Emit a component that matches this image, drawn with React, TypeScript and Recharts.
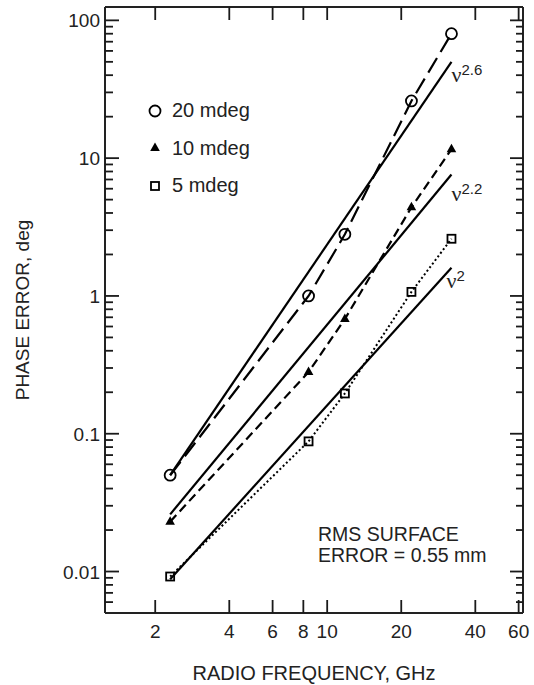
import React from "react";
import { ComposedChart, Line, XAxis, YAxis, ReferenceDot, Legend } from "recharts";

// measured points, GHz vs deg
const FREQ = [2.3, 8.4, 11.8, 22, 32];
const ERR_20MDEG = [0.05, 1.0, 2.8, 26, 80];
const ERR_10MDEG = [0.023, 0.28, 0.68, 4.4, 11.6];
const ERR_5MDEG = [0.0092, 0.088, 0.196, 1.07, 2.6];

// power-law reference lines (end points)
const FIT_FREQ = [2.3, 32];
const FIT_NU26 = [0.05, 50];
const FIT_NU22 = [0.026, 7.6];
const FIT_NU20 = [0.0088, 1.6];

const X_TICKS = [2, 4, 6, 8, 10, 20, 40, 60];
const Y_MAJOR = [0.01, 0.1, 1, 10, 100];
const Y_MINOR = [
  0.006, 0.007, 0.008, 0.009,
  0.02, 0.03, 0.04, 0.05, 0.06, 0.07, 0.08, 0.09,
  0.2, 0.3, 0.4, 0.5, 0.6, 0.7, 0.8, 0.9,
  2, 3, 4, 5, 6, 7, 8, 9,
  20, 30, 40, 50, 60, 70, 80, 90,
];
const Y_TICKS = [...Y_MAJOR, ...Y_MINOR].sort((a, b) => a - b);

const LEGEND_LABELS = ["20 mdeg", "10 mdeg", "5 mdeg"];

const toPoints = (xs: number[], ys: number[]) => xs.map((x, i) => ({ x, y: ys[i] }));

const INK = "#222";
const TICK = "#1a1a1a";
const FONT = "'Liberation Sans', Arial, sans-serif";
const FS = 19;

function CircleDot(props: any) {
  const { cx, cy } = props;
  return <circle cx={cx} cy={cy} r={5.5} fill="none" stroke="#000" strokeWidth={1.8} />;
}

function TriDot(props: any) {
  const { cx, cy } = props;
  return <path d={`M${cx},${cy - 5.5} L${cx + 4.8},${cy + 3} L${cx - 4.8},${cy + 3} Z`} fill="#000" />;
}

function SquareDot(props: any) {
  const { cx, cy } = props;
  return <rect x={cx - 4} y={cy - 4} width={8} height={8} fill="none" stroke="#000" strokeWidth={1.8} />;
}

// inward tick marks, drawn by hand since recharts only draws them outward
function LeftTick(props: any) {
  const x = Number(props.x);
  const y = Number(props.y);
  const value = props.payload.value;
  const ax = x + 5;
  const major = Y_MAJOR.includes(value);
  return (
    <g>
      <path d={`M${ax},${y}h${major ? 14 : 8}`} stroke={TICK} strokeWidth={1.8} fill="none" />
      {major && (
        <text x={x} y={y} dy={7} textAnchor="end" fill={INK} fontSize={FS} fontFamily={FONT}>
          {value}
        </text>
      )}
    </g>
  );
}

function RightTick(props: any) {
  const x = Number(props.x);
  const y = Number(props.y);
  const major = Y_MAJOR.includes(props.payload.value);
  return <path d={`M${x},${y}h${major ? -13 : -7}`} stroke={TICK} strokeWidth={1.8} fill="none" />;
}

function BottomTick(props: any) {
  const x = Number(props.x);
  const y = Number(props.y);
  return (
    <g>
      <path d={`M${x},${y}v-13`} stroke={TICK} strokeWidth={1.8} fill="none" />
      <text x={x} y={y + 25} textAnchor="middle" fill={INK} fontSize={FS} fontFamily={FONT}>
        {props.payload.value}
      </text>
    </g>
  );
}

function TopTick(props: any) {
  const x = Number(props.x);
  const y = Number(props.y);
  return <path d={`M${x},${y}v13`} stroke={TICK} strokeWidth={1.8} fill="none" />;
}

function YTitle(props: any) {
  const { viewBox } = props;
  const cx = viewBox.x + 29;
  const cy = viewBox.y + viewBox.height / 2;
  return (
    <text x={cx} y={cy} transform={`rotate(-90 ${cx} ${cy})`} textAnchor="middle" fill={INK} fontSize={FS} fontFamily={FONT}>
      PHASE ERROR, deg
    </text>
  );
}

function NuLabel(props: any) {
  const { viewBox, power, dx, dy } = props;
  const x = viewBox.x + dx;
  const y = viewBox.y + dy;
  return (
    <text x={x} y={y} fill={INK}>
      <tspan fontFamily="'Liberation Serif', serif" fontSize={22}>ν</tspan>
      <tspan dy={-7} fontFamily={FONT} fontSize={15}>{power}</tspan>
    </text>
  );
}

function LegendBox() {
  const marks = [
    <circle key="c" cx={10} cy={10} r={5.5} fill="none" stroke="#000" strokeWidth={1.8} />,
    <path key="t" d="M10,4.5 L14.8,13 L5.2,13 Z" fill="#000" />,
    <rect key="s" x={6} y={6} width={8} height={8} fill="none" stroke="#000" strokeWidth={1.8} />,
  ];
  return (
    <div style={{ fontFamily: FONT, fontSize: FS + 1, color: INK }}>
      {LEGEND_LABELS.map((name, i) => (
        <div key={name} style={{ display: "flex", alignItems: "center", height: 37.5 }}>
          <svg width={20} height={20} style={{ marginRight: 7 }}>{marks[i]}</svg>
          <span>{name}</span>
        </div>
      ))}
    </div>
  );
}

export default function App() {
  return (
    <div style={{ position: "absolute", left: 0, top: 0, width: 534, height: 685, background: "#fff" }}>
      <ComposedChart width={534} height={685} margin={{ top: 6, right: 10, bottom: 0, left: 0 }}>
        <XAxis
          xAxisId="b"
          dataKey="x"
          type="number"
          scale="log"
          domain={[1.25, 62.5]}
          allowDataOverflow
          ticks={X_TICKS}
          interval={0}
          height={72}
          tickSize={0}
          tickMargin={0}
          tick={<BottomTick />}
          axisLine={{ stroke: INK, strokeWidth: 2 }}
          label={{ value: "RADIO FREQUENCY, GHz", position: "insideBottom", offset: 5, fill: INK, fontSize: FS + 1, fontFamily: FONT }}
        />
        <XAxis
          xAxisId="t"
          dataKey="x"
          orientation="top"
          type="number"
          scale="log"
          domain={[1.25, 62.5]}
          allowDataOverflow
          ticks={X_TICKS}
          interval={0}
          height={1}
          tickSize={0}
          tickMargin={0}
          tick={<TopTick />}
          axisLine={{ stroke: INK, strokeWidth: 2 }}
        />
        <YAxis
          yAxisId="l"
          type="number"
          scale="log"
          domain={[0.005, 125]}
          allowDataOverflow
          ticks={Y_TICKS}
          interval={0}
          width={105}
          tickSize={0}
          tickMargin={5}
          tick={<LeftTick />}
          axisLine={{ stroke: INK, strokeWidth: 2 }}
          label={<YTitle />}
        />
        <YAxis
          yAxisId="r"
          orientation="right"
          type="number"
          scale="log"
          domain={[0.005, 125]}
          allowDataOverflow
          ticks={Y_TICKS}
          interval={0}
          width={1}
          tickSize={0}
          tickMargin={0}
          tick={<RightTick />}
          axisLine={{ stroke: INK, strokeWidth: 2 }}
        />
        <Legend layout="horizontal" verticalAlign="middle" align="center" content={<LegendBox />} wrapperStyle={{ top: 92, left: 145, width: "auto", height: "auto" }} />

        <Line xAxisId="b" yAxisId="l" data={toPoints(FIT_FREQ, FIT_NU26)} dataKey="y" stroke="#000" strokeWidth={2.2} dot={false} legendType="none" isAnimationActive={false} />
        <Line xAxisId="b" yAxisId="l" data={toPoints(FIT_FREQ, FIT_NU22)} dataKey="y" stroke="#000" strokeWidth={2.2} dot={false} legendType="none" isAnimationActive={false} />
        {/* same scales as b/l; binds the mirrored top/right axes */}
        <Line xAxisId="t" yAxisId="r" data={toPoints(FIT_FREQ, FIT_NU20)} dataKey="y" stroke="#000" strokeWidth={2.2} dot={false} legendType="none" isAnimationActive={false} />

        <Line xAxisId="b" yAxisId="l" name="20 mdeg" data={toPoints(FREQ, ERR_20MDEG)} dataKey="y" stroke="#000" strokeWidth={2.2} strokeDasharray="17 7" dot={<CircleDot />} isAnimationActive={false} />
        <Line xAxisId="b" yAxisId="l" name="10 mdeg" data={toPoints(FREQ, ERR_10MDEG)} dataKey="y" stroke="#000" strokeWidth={2.2} strokeDasharray="9 5" dot={<TriDot />} isAnimationActive={false} />
        <Line xAxisId="b" yAxisId="l" name="5 mdeg" data={toPoints(FREQ, ERR_5MDEG)} dataKey="y" stroke="#000" strokeWidth={2} strokeDasharray="2 2.5" dot={<SquareDot />} isAnimationActive={false} />

        <ReferenceDot xAxisId="b" yAxisId="l" x={FIT_FREQ[1]} y={FIT_NU26[1]} r={0} fill="none" stroke="none" label={<NuLabel power="2.6" dx={0} dy={20} />} />
        <ReferenceDot xAxisId="b" yAxisId="l" x={FIT_FREQ[1]} y={FIT_NU22[1]} r={0} fill="none" stroke="none" label={<NuLabel power="2.2" dx={0} dy={26} />} />
        <ReferenceDot xAxisId="b" yAxisId="l" x={FIT_FREQ[1]} y={FIT_NU20[1]} r={0} fill="none" stroke="none" label={<NuLabel power="2" dx={-5} dy={20} />} />
      </ComposedChart>
      <div style={{ position: "absolute", left: 318, top: 524, fontFamily: FONT, fontSize: FS + 0.5, color: INK, lineHeight: "21px" }}>
        <div>RMS SURFACE</div>
        <div>ERROR = 0.55 mm</div>
      </div>
    </div>
  );
}
